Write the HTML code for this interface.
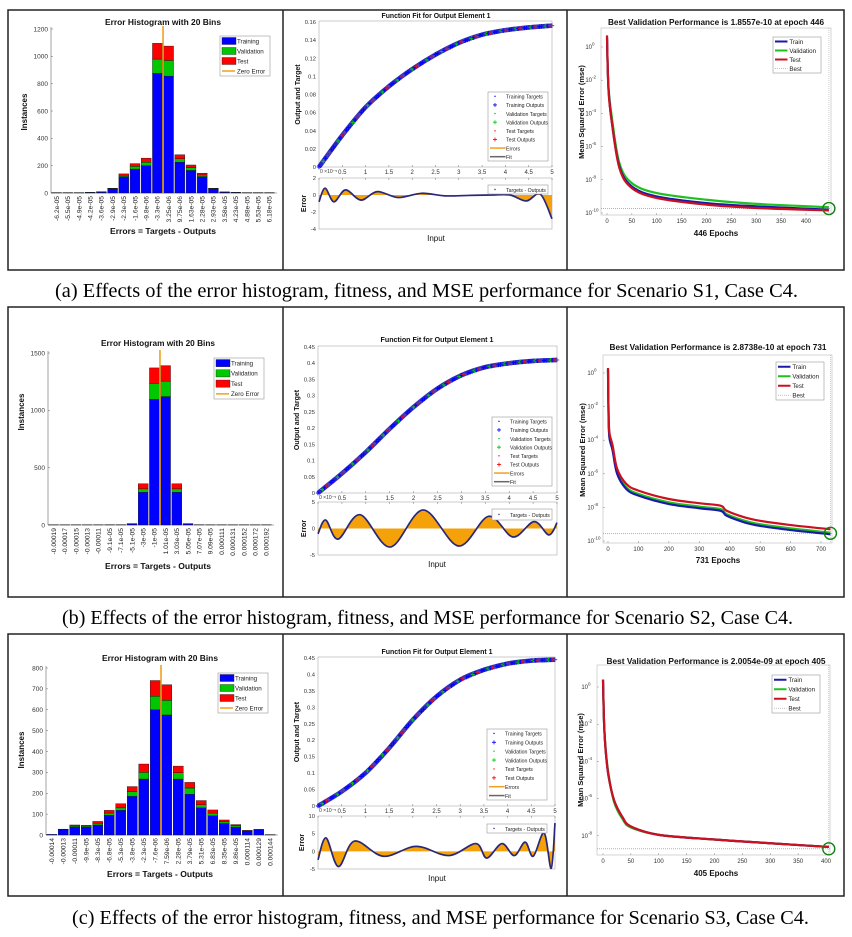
<!DOCTYPE html>
<html><head><meta charset="utf-8"><style>
html,body{margin:0;padding:0;background:#fff;}
svg{display:block;}
text{font-family:"Liberation Sans",sans-serif;}
.cap{font-family:"Liberation Serif",serif;}
</style></head><body>
<svg id="fig" width="852" height="937" viewBox="0 0 852 937" xmlns="http://www.w3.org/2000/svg">
<rect x="0" y="0" width="852" height="937" fill="#fff"/>
<g fill="none" stroke="#222" stroke-width="1.5">
<rect x="8" y="10" width="836" height="260"/><line x1="283" y1="10" x2="283" y2="270"/><line x1="567" y1="10" x2="567" y2="270"/></g>
<g fill="none" stroke="#222" stroke-width="1.5">
<rect x="8" y="307" width="836" height="290"/><line x1="283" y1="307" x2="283" y2="597"/><line x1="567" y1="307" x2="567" y2="597"/></g>
<g fill="none" stroke="#222" stroke-width="1.5">
<rect x="8" y="634" width="836" height="262"/><line x1="283" y1="634" x2="283" y2="896"/><line x1="567" y1="634" x2="567" y2="896"/></g>
<text class="cap" x="55" y="297" font-size="20" textLength="743" lengthAdjust="spacingAndGlyphs">(a)  Effects of the error histogram, fitness, and MSE performance for Scenario S1, Case C4.</text>
<text class="cap" x="62" y="624" font-size="20" textLength="731" lengthAdjust="spacingAndGlyphs">(b)  Effects of the error histogram, fitness, and MSE performance for Scenario S2, Case C4.</text>
<text class="cap" x="72" y="924" font-size="20" textLength="737" lengthAdjust="spacingAndGlyphs">(c) Effects of the error histogram, fitness, and MSE performance for Scenario S3, Case C4.</text>
</svg>
<script>
// ---------- DATA ----------
const histLabelsA = ["-6.2e-05","-5.5e-05","-4.9e-05","-4.2e-05","-3.6e-05","-2.9e-05","-2.3e-05","-1.6e-05","-9.8e-06","-3.3e-06","3.25e-06","9.75e-06","1.63e-05","2.28e-05","2.93e-05","3.58e-05","4.23e-05","4.88e-05","5.53e-05","6.18e-05"];
const histTrainA = [3,3,3,4,7,28,120,175,200,875,855,225,165,120,28,6,4,3,3,3];
const histValA   = [0,0,0,1,1,4,10,20,25,105,115,25,20,12,4,1,1,0,0,0];
const histTestA  = [0,0,0,0,1,3,10,20,30,115,105,30,20,13,3,1,0,0,0,0];
const histLabelsB = ["-0.00019","-0.00017","-0.00015","-0.00013","-0.00011","-9.1e-05","-7.1e-05","-5.1e-05","-3e-05","-1e-05","1.01e-05","3.03e-05","5.05e-05","7.07e-05","9.09e-05","0.000111","0.000131","0.000152","0.000172","0.000192"];
const histTrainB = [2,2,2,2,2,3,3,10,285,1095,1120,285,10,3,2,2,2,2,2,2];
const histValB   = [0,0,0,0,0,0,0,1,30,140,135,30,1,0,0,0,0,0,0,0];
const histTestB  = [0,0,0,0,0,0,0,1,45,135,135,45,1,0,0,0,0,0,0,0];
const histLabelsC = ["-0.00014","-0.00013","-0.00011","-9.9e-05","-8.3e-05","-6.8e-05","-5.3e-05","-3.8e-05","-2.3e-05","-7.6e-06","7.59e-06","2.28e-05","3.79e-05","5.31e-05","6.83e-05","8.35e-05","9.86e-05","0.000114","0.000129","0.000144"];
const histTrainC = [3,25,38,37,48,95,118,185,268,600,575,268,195,130,92,55,38,20,25,2];
const histValC   = [0,2,5,5,8,10,12,22,32,65,70,30,30,15,13,8,6,1,1,0];
const histTestC  = [0,1,5,5,9,13,20,25,40,75,75,32,27,20,15,9,6,1,1,0];

const fitInput = [0,0.5,1,1.5,2,2.5,3,3.5,4,4.5,5];
const fitOutA = [0,0.035,0.066,0.089,0.108,0.124,0.137,0.146,0.151,0.154,0.156];
const fitOutB = [0,0.06,0.126,0.198,0.265,0.322,0.363,0.388,0.400,0.407,0.41];
const fitOutC = [0,0.044,0.1,0.176,0.262,0.333,0.384,0.414,0.433,0.442,0.445];

const errInputA = [0,0.13,0.32,0.57,0.9,1.25,1.7,2.2,2.7,3.2,3.7,4.1,4.45,4.75,5];
const errValueA = [-0.8,0.8,-0.8,0.6,-0.6,0.4,-0.3,0.2,-0.1,-0.05,0,0,-0.7,0.1,-2.8];
const errInputB = [0,0.16,0.42,0.88,1.51,2.2,2.94,3.57,4.08,4.52,4.83,5];
const errValueB = [-1,1.6,-2,2.6,-3.5,3.5,-3.3,2.3,-1.6,1.3,-1.2,1.1];
const errInputC = [0,0.17,0.43,0.77,1.38,2.07,2.76,3.33,3.56,3.88,4.14,4.37,4.54,4.77,4.92,5];
const errValueC = [-2.4,3.8,-4.3,2.9,-1.4,1.4,-1.2,2.2,-1.9,2.2,-1.2,2.6,-1.4,5.2,-4.8,8];

const perfEpochA = [0,3,10,25,50,100,200,300,446];
const perfTrainA = [0.6,-2.5,-4.6,-7.2,-8.4,-9.0,-9.4,-9.6,-9.8];
const perfValA   = [0.5,-2.4,-4.3,-7.0,-8.2,-8.8,-9.2,-9.45,-9.65];
const perfTestA  = [0.7,-2.6,-4.6,-7.3,-8.5,-9.1,-9.5,-9.7,-9.85];
const perfBestA  = [446, -9.73];
const perfEpochB = [0,2,5,15,30,60,100,200,300,370,390,450,500,600,731];
const perfTrainB = [0.2,-2.8,-3.9,-4.6,-6.0,-6.9,-7.3,-7.8,-8.05,-8.2,-8.5,-8.9,-9.1,-9.35,-9.6];
const perfValB   = [0.2,-2.7,-3.8,-4.5,-5.9,-6.8,-7.2,-7.7,-7.95,-8.1,-8.4,-8.8,-9.0,-9.25,-9.5];
const perfTestB  = [0.3,-2.5,-3.6,-4.3,-5.7,-6.6,-7.0,-7.5,-7.75,-7.9,-8.2,-8.6,-8.8,-9.05,-9.3];
const perfBestB  = [731, -9.54];
const perfEpochC = [0,2,5,10,20,35,50,100,200,300,405];
const perfTrainC = [0.4,-2.0,-3.5,-4.8,-6.1,-7.0,-7.5,-7.95,-8.2,-8.4,-8.6];
const perfValC   = [0.35,-2.0,-3.4,-4.7,-6.2,-7.1,-7.55,-7.95,-8.2,-8.4,-8.6];
const perfTestC  = [0.4,-2.0,-3.5,-4.8,-6.1,-7.0,-7.5,-7.95,-8.2,-8.4,-8.6];
const perfBestC  = [405, -8.70];

// ---------- HELPERS ----------
const NS='http://www.w3.org/2000/svg';
const svg=document.getElementById('fig');
function mk(tag,attrs,parent,text){const e=document.createElementNS(NS,tag);for(const k in attrs)e.setAttribute(k,attrs[k]);if(text!==undefined)e.textContent=text;(parent||svg).appendChild(e);return e;}
function smooth(pts){if(pts.length<2)return '';let d='M'+pts[0][0].toFixed(2)+','+pts[0][1].toFixed(2);for(let i=0;i<pts.length-1;i++){const p0=pts[Math.max(0,i-1)],p1=pts[i],p2=pts[i+1],p3=pts[Math.min(pts.length-1,i+2)];const c1=[p1[0]+(p2[0]-p0[0])/6,p1[1]+(p2[1]-p0[1])/6],c2=[p2[0]-(p3[0]-p1[0])/6,p2[1]-(p3[1]-p1[1])/6];d+=' C'+c1[0].toFixed(2)+','+c1[1].toFixed(2)+' '+c2[0].toFixed(2)+','+c2[1].toFixed(2)+' '+p2[0].toFixed(2)+','+p2[1].toFixed(2);}return d;}
function lerp(xs,ys,x){for(let i=0;i<xs.length-1;i++){if(x<=xs[i+1]){const t=(x-xs[i])/(xs[i+1]-xs[i]);return ys[i]+t*(ys[i+1]-ys[i]);}}return ys[ys.length-1];}

function legendBox(g,x,y,w,h,items){
  const lg=mk('g',{},g);
  
  
  mk('rect',{x:x,y:y,width:w,height:h,fill:'#fff',stroke:'#999','stroke-width':0.6},lg);
  const step=h/items.length;
  items.forEach((it,i)=>{
    const cy=y+step*(i+0.5);
    if(it.kind==='box'){mk('rect',{x:x+2,y:cy-step*0.35,width:w*0.28,height:step*0.7,fill:it.c,stroke:'#222','stroke-width':0.4},lg);}
    else if(it.kind==='line'){mk('line',{x1:x+2,y1:cy,x2:x+2+w*0.26,y2:cy,stroke:it.c,'stroke-width':it.sw||1.5,'stroke-dasharray':it.dash||'none'},lg);}
    else if(it.kind==='dot'){mk('circle',{cx:x+7,cy:cy,r:0.7,fill:it.c},lg);}
    else if(it.kind==='plus'){mk('path',{d:`M${x+5},${cy}h4M${x+7},${cy-2}v4`,stroke:it.c,'stroke-width':0.8},lg);}
    const t=mk('text',{x:x+(it.kind==='box'||it.kind==='line'&&w<55?w*0.34:w*0.3),y:cy+2.3,'font-size':it.fs||6.2,fill:'#222'},lg,it.t);
    
    
  });
}

// ---------- HISTOGRAM ----------
function drawHist(p,labels,train,val,test){
  const g=mk('g',{},svg);
  
  
  const n=labels.length, slot=(p.x1-p.x0)/n;
  const yS=v=>p.y0-(v/p.tickMax)*(p.y0-p.yT);
  mk('line',{x1:p.x0,y1:p.yT-2,x2:p.x0,y2:p.y0,stroke:'#666','stroke-width':0.6},g);
  mk('line',{x1:p.x0,y1:p.y0,x2:p.x1+2,y2:p.y0,stroke:'#666','stroke-width':0.6},g);
  for(let v=0;v<=p.tickMax;v+=p.tickStep){
    mk('line',{x1:p.x0,y1:yS(v),x2:p.x0+2,y2:yS(v),stroke:'#666','stroke-width':0.5},g);
    const t=mk('text',{x:p.x0-3,y:yS(v)+2.3,'font-size':6.5,'text-anchor':'end',fill:'#333'},g,String(v));
    
    
  }
  const cols=['#0000ff','#00c800','#ff0000'];
  for(let i=0;i<n;i++){
    let base=0;
    [train[i],val[i],test[i]].forEach((v,k)=>{
      if(v<=0)return;
      const r=mk('rect',{x:p.x0+slot*(i+0.06),y:yS(base+v),width:slot*0.88,height:yS(base)-yS(base+v),fill:cols[k],stroke:'#111','stroke-width':0.4},g);
      
      
      base+=v;
    });
    const cx=p.x0+slot*(i+0.5), ty=p.y0+3;
    const t=mk('text',{x:cx+2.3,y:ty,'font-size':6.7,'text-anchor':'end',fill:'#222',transform:`rotate(-90 ${cx+2.3} ${ty})`},g,labels[i]);
    
    
  }
  const nums=labels.map(Number); let zpos=n/2;
  for(let i=0;i<n-1;i++){if(nums[i]<0&&nums[i+1]>=0){zpos=i+0.5+(-nums[i])/(nums[i+1]-nums[i]);}}
  const zx=p.x0+slot*zpos;
  const zl=mk('line',{x1:zx,y1:p.yT-3,x2:zx,y2:p.y0,stroke:'#f0a020','stroke-width':1.6},g);
  
  
  const tt=mk('text',{x:p.tx-p.tw/2,y:p.ty,'font-size':8.5,'font-weight':'bold',fill:'#111',textLength:p.tw,lengthAdjust:'spacingAndGlyphs'},g,'Error Histogram with 20 Bins');
  
  
  const xl=mk('text',{x:p.tx-53,y:p.xly,'font-size':8.5,'font-weight':'bold',fill:'#111',textLength:106,lengthAdjust:'spacingAndGlyphs'},g,'Errors = Targets - Outputs');
  
  
  const yl=mk('text',{x:p.ylx,y:p.yly,'font-size':8,'font-weight':'bold','text-anchor':'middle',fill:'#111',transform:`rotate(-90 ${p.ylx} ${p.yly})`},g,'Instances');
  
  
  legendBox(g,p.lx,p.ly,50,p.lh,[{kind:'box',c:'#0000ff',t:'Training'},{kind:'box',c:'#00c800',t:'Validation'},{kind:'box',c:'#ff0000',t:'Test'},{kind:'line',c:'#f0a020',t:'Zero Error'}]);
}

// ---------- FIT ----------
function drawFit(p,out,ex,ey){
  const g=mk('g',{},svg);
  
  
  const xS=v=>p.x0+v/5*(p.x1-p.x0);
  const yS=v=>p.y0-v/p.ymax*(p.y0-p.yT);
  const lS=v=>p.lyT+(p.lmax-v)/(p.lmax-p.lmin)*(p.lyB-p.lyT);
  mk('rect',{x:p.x0,y:p.yT-1,width:p.x1-p.x0,height:p.y0-p.yT+1,fill:'none',stroke:'#aaa','stroke-width':0.6},g);
  mk('rect',{x:p.x0,y:p.lyT,width:p.x1-p.x0,height:p.lyB-p.lyT,fill:'none',stroke:'#aaa','stroke-width':0.6},g);
  for(let k=0;k<=Math.round(p.ymax/p.ystep);k++){
    const v=k*p.ystep;
    const t=mk('text',{x:p.x0-3,y:yS(v)+2,'font-size':5.8,'text-anchor':'end',fill:'#333'},g,String(+v.toFixed(2)));
    
    
  }
  for(let k=0;k<=10;k++){
    const v=k*0.5;
    mk('line',{x1:xS(v),y1:p.y0,x2:xS(v),y2:p.y0-2,stroke:'#777','stroke-width':0.5},g);
    mk('line',{x1:xS(v),y1:p.lyT,x2:xS(v),y2:p.lyT+2,stroke:'#777','stroke-width':0.5},g);
    const t=mk('text',{x:xS(v),y:p.y0+7,'font-size':6,'text-anchor':'middle',fill:'#333'},g,k===0?'':String(v));
    
    
  }
  mk('text',{x:p.x0+1,y:p.y0+6,'font-size':5,fill:'#333'},g,'0 ×10⁻⁵');
  p.lticks.forEach(v=>{
    const t=mk('text',{x:p.x0-3,y:lS(v)+2,'font-size':5.8,'text-anchor':'end',fill:'#333'},g,String(v));
    
    
  });
  const pts=fitInput.map((x,i)=>[xS(x),yS(out[i])]);
  const fc=mk('path',{d:smooth(pts),fill:'none',stroke:'#3030c0','stroke-width':4.6},g);
  
  
  const mcols=['#0000ff','#2020d0','#00c800','#0000ff','#d01030','#6040a0','#0000ff'];
  for(let k=0;k<=110;k++){
    const xv=5*k/110, yv=lerp(fitInput,out,xv);
    const cx=xS(xv), cy=yS(yv);
    const m=mk('path',{d:`M${cx-2.2},${cy}h4.4M${cx},${cy-2.2}v4.4`,stroke:mcols[k%7],'stroke-width':1},g);
    
    
  }
  const z=lS(0);
  const ep=ex.map((x,i)=>[xS(x),lS(ey[i])]);
  const d=smooth(ep);
  const ef=mk('path',{d:d+` L${xS(5)},${z} L${xS(0)},${z} Z`,fill:'#f5a10a',stroke:'none'},g);
  
  
  const el=mk('path',{d:d,fill:'none',stroke:'#28287a','stroke-width':1.7},g);
  
  
  const tt=mk('text',{x:p.tx-p.tw/2,y:p.ty,'font-size':7.5,'font-weight':'bold',fill:'#111',textLength:p.tw,lengthAdjust:'spacingAndGlyphs'},g,'Function Fit for Output Element 1');
  
  
  const xl=mk('text',{x:p.tx,y:p.iy,'font-size':8,'text-anchor':'middle',fill:'#111'},g,'Input');
  
  
  const yy=(p.yT+p.y0)/2;
  const yl=mk('text',{x:p.ylx,y:yy,'font-size':7,'font-weight':'bold','text-anchor':'middle',fill:'#111',transform:`rotate(-90 ${p.ylx} ${yy})`},g,'Output and Target');
  
  
  const ly=(p.lyT+p.lyB)/2;
  const el2=mk('text',{x:p.elx,y:ly,'font-size':7,'font-weight':'bold','text-anchor':'middle',fill:'#111',transform:`rotate(-90 ${p.elx} ${ly})`},g,'Error');
  
  
  legendBox(g,p.lx,p.ly,60,p.lh,[{kind:'dot',c:'#0000ff',t:'Training Targets',fs:5.2},{kind:'plus',c:'#0000ff',t:'Training Outputs',fs:5.2},{kind:'dot',c:'#00c800',t:'Validation Targets',fs:5.2},{kind:'plus',c:'#00c800',t:'Validation Outputs',fs:5.2},{kind:'dot',c:'#ff0000',t:'Test Targets',fs:5.2},{kind:'plus',c:'#ff0000',t:'Test Outputs',fs:5.2},{kind:'line',c:'#f0a020',t:'Errors',fs:5.2},{kind:'line',c:'#666',t:'Fit',fs:5.2}]);
  legendBox(g,p.lx,p.l2y,60,p.l2h,[{kind:'dot',c:'#28287a',t:'Targets - Outputs',fs:5.2}]);
}

// ---------- PERFORMANCE ----------
function drawPerf(p,ep,tr,va,te,best){
  const g=mk('g',{},svg);
  
  
  const xS=e=>p.e0+e*p.es;
  const yS=l=>p.p0-l*p.dec;
  mk('rect',{x:p.bx0,y:p.by0,width:p.bx1-p.bx0,height:p.by1-p.by0,fill:'none',stroke:'#bbb','stroke-width':0.6},g);
  p.yexp.forEach(e=>{
    mk('line',{x1:p.bx0,y1:yS(e),x2:p.bx0+2,y2:yS(e),stroke:'#888','stroke-width':0.5},g);
    const t=mk('text',{x:p.bx0-9,y:yS(e)+2,'font-size':6,'text-anchor':'end',fill:'#333'},g,'10');
    
    
    mk('text',{x:p.bx0-9,y:yS(e)-1.5,'font-size':4.5,fill:'#333'},g,String(e));
  });
  for(let e=0;e<=p.xmaxTick;e+=p.xstep){
    mk('line',{x1:xS(e),y1:p.by1,x2:xS(e),y2:p.by1-2,stroke:'#888','stroke-width':0.5},g);
    const t=mk('text',{x:xS(e),y:p.by1+8,'font-size':6,'text-anchor':'middle',fill:'#333'},g,String(e));
    
    
  }
  const bl=mk('line',{x1:p.bx0,y1:yS(best[1]),x2:p.bx1,y2:yS(best[1]),stroke:'#888','stroke-width':0.6,'stroke-dasharray':'1,1'},g);
  
  
  mk('line',{x1:xS(best[0]),y1:p.by0,x2:xS(best[0]),y2:p.by1,stroke:'#aaa','stroke-width':0.6,'stroke-dasharray':'1,1'},g);
  [[va,'#20c020','validation-line'],[tr,'#1a1aa8','train-line'],[te,'#cc1020','test-line']].forEach(s=>{
    const pts=ep.map((e,i)=>[xS(e),yS(s[0][i])]);
    const l=mk('path',{d:smooth(pts),fill:'none',stroke:s[1],'stroke-width':2.2},g);
    
    
  });
  const c=mk('circle',{cx:xS(best[0]),cy:yS(best[1]),r:6,fill:'none',stroke:'#108010','stroke-width':1.4},g);
  
  
  const tt=mk('text',{x:p.tx-p.tw/2,y:p.ty,'font-size':8,'font-weight':'bold',fill:'#111',textLength:p.tw,lengthAdjust:'spacingAndGlyphs'},g,p.title);
  
  
  const xl=mk('text',{x:p.tx,y:p.ely,'font-size':8,'font-weight':'bold','text-anchor':'middle',fill:'#111'},g,p.epochs);
  
  
  const yl=mk('text',{x:p.ylx,y:p.yly,'font-size':7.5,'font-weight':'bold','text-anchor':'middle',fill:'#111',transform:`rotate(-90 ${p.ylx} ${p.yly})`},g,'Mean Squared Error  (mse)');
  
  
  legendBox(g,p.lx,p.ly,48,p.lh,[{kind:'line',c:'#1a1aa8',t:'Train',sw:2},{kind:'line',c:'#20c020',t:'Validation',sw:2},{kind:'line',c:'#cc1020',t:'Test',sw:2},{kind:'line',c:'#aaa',t:'Best',sw:0.8,dash:'1,1'}]);
}

// ---------- LAYOUT & RENDER ----------
drawHist({name:'histogram-a',x0:51,x1:275,yT:29,y0:193,tickMax:1200,tickStep:200,tx:163,ty:25,tw:116,xly:234,ylx:27,yly:112,lx:220,ly:36,lh:40},histLabelsA,histTrainA,histValA,histTestA);
drawHist({name:'histogram-b',x0:48,x1:272,yT:353,y0:525,tickMax:1500,tickStep:500,tx:158,ty:346,tw:114,xly:569,ylx:24,yly:412,lx:214,ly:358,lh:41},histLabelsB,histTrainB,histValB,histTestB);
drawHist({name:'histogram-c',x0:46,x1:276,yT:668,y0:835,tickMax:800,tickStep:100,tx:160,ty:661,tw:116,xly:877,ylx:24,yly:750,lx:218,ly:673,lh:40},histLabelsC,histTrainC,histValC,histTestC);

drawFit({name:'fit-a',x0:319,x1:552,yT:22,y0:167,ymax:0.16,ystep:0.02,lyT:178,lyB:229,lmax:2,lmin:-4,lticks:[2,0,-2,-4],tx:436,ty:18,tw:109,iy:241,ylx:300,elx:306,lx:488,ly:92,lh:69,l2y:185,l2h:9},fitOutA,errInputA,errValueA);
drawFit({name:'fit-b',x0:318,x1:557,yT:347,y0:493,ymax:0.45,ystep:0.05,lyT:502,lyB:555,lmax:5,lmin:-5,lticks:[5,0,-5],tx:437,ty:342,tw:113,iy:567,ylx:299,elx:306,lx:492,ly:417,lh:69,l2y:509,l2h:11},fitOutB,errInputB,errValueB);
drawFit({name:'fit-c',x0:318,x1:555,yT:658,y0:806,ymax:0.45,ystep:0.05,lyT:816,lyB:869,lmax:10,lmin:-5,lticks:[10,5,0,-5],tx:437,ty:654,tw:111,iy:881,ylx:299,elx:304,lx:487,ly:729,lh:71,l2y:824,l2h:9},fitOutC,errInputC,errValueC);

drawPerf({name:'performance-a',bx0:601,bx1:831,by0:28,by1:215,e0:607,es:0.4975,p0:47,dec:16.6,yexp:[0,-2,-4,-6,-8,-10],xmaxTick:400,xstep:50,tx:716,ty:25,tw:216,title:'Best Validation Performance is 1.8557e-10 at epoch 446',epochs:'446 Epochs',ely:236,ylx:584,yly:112,lx:773,ly:37,lh:36},perfEpochA,perfTrainA,perfValA,perfTestA,perfBestA);
drawPerf({name:'performance-b',bx0:603,bx1:832,by0:355,by1:543,e0:608,es:0.3043,p0:373,dec:16.8,yexp:[0,-2,-4,-6,-8,-10],xmaxTick:700,xstep:100,tx:718,ty:350,tw:217,title:'Best Validation Performance is 2.8738e-10 at epoch 731',epochs:'731 Epochs',ely:563,ylx:585,yly:450,lx:776,ly:362,lh:38},perfEpochB,perfTrainB,perfValB,perfTestB,perfBestB);
drawPerf({name:'performance-c',bx0:597,bx1:830,by0:665,by1:855,e0:603,es:0.5575,p0:687,dec:18.6,yexp:[0,-2,-4,-6,-8],xmaxTick:400,xstep:50,tx:716,ty:664,tw:219,title:'Best Validation Performance is 2.0054e-09 at epoch 405',epochs:'405 Epochs',ely:876,ylx:583,yly:760,lx:772,ly:675,lh:38},perfEpochC,perfTrainC,perfValC,perfTestC,perfBestC);
</script>
</body></html>
